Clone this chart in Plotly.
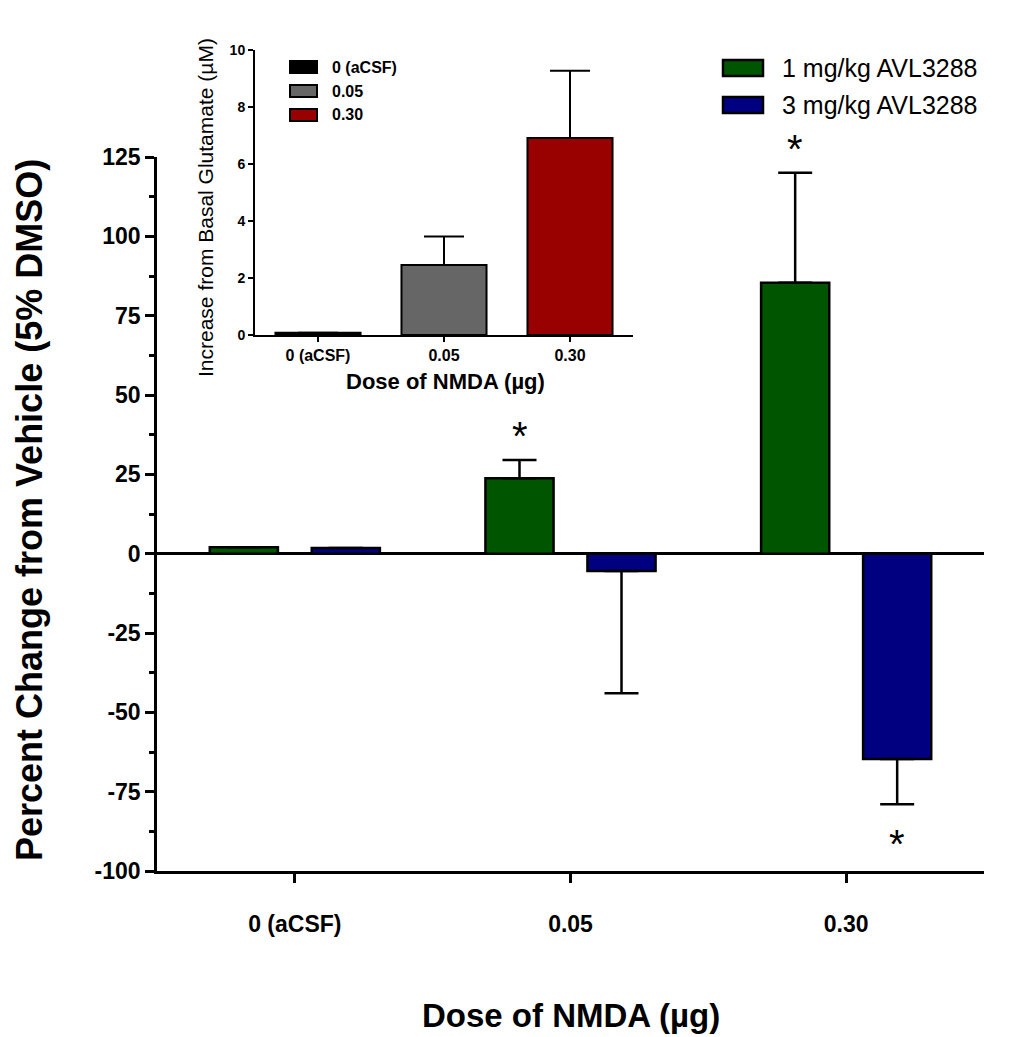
import plotly.graph_objects as go

# ---------------- data ----------------
doses = ["0 (aCSF)", "0.05", "0.30"]
series_names = ["1 mg/kg AVL3288", "3 mg/kg AVL3288"]
pct_1mg = [2.0, 23.8, 85.4]
err_1mg = [0, 5.7, 34.6]
pct_3mg = [1.8, -5.5, -64.7]
err_3mg = [0, 38.5, 14.3]
sig_1mg = [False, True, True]
sig_3mg = [False, False, True]
main_yticks = [-100, -75, -50, -25, 0, 25, 50, 75, 100, 125]

inset_glutamate = [0.08, 2.46, 6.91]
inset_err = [0, 1.0, 2.36]
inset_yticks = [0, 2, 4, 6, 8, 10]

# ---------------- styles ----------------
W, H = 1017, 1037
FONT = "Arial, Liberation Sans, sans-serif"
series_colors = ["#005500", "#000080"]
inset_colors = ["#000000", "#666666", "#990000"]


def px(x):
    return x / W


def py(y):
    return 1 - y / H


def up_err(vals, errs):
    return [e if v >= 0 else 0 for v, e in zip(vals, errs)]


def down_err(vals, errs):
    return [e if v < 0 else 0 for v, e in zip(vals, errs)]


def label(x, y, text, size, bold=False, angle=0, xanchor="center"):
    f = dict(family=FONT, size=size, color="black")
    if bold:
        f["weight"] = "bold"
    return dict(x=px(x), y=py(y), xref="paper", yref="paper", showarrow=False,
                xanchor=xanchor, yanchor="middle", text=text, textangle=angle, font=f)


xi = list(range(len(doses)))
fig = go.Figure()

for name, vals, errs, col in [
    (series_names[0], pct_1mg, err_1mg, series_colors[0]),
    (series_names[1], pct_3mg, err_3mg, series_colors[1]),
]:
    fig.add_trace(go.Bar(
        x=xi, y=vals, name=name, showlegend=False,
        marker=dict(color=col, line=dict(color="black", width=2.5)),
        error_y=dict(type="data", symmetric=False,
                     array=up_err(vals, errs), arrayminus=down_err(vals, errs),
                     color="black", thickness=2.5, width=17),
        xaxis="x", yaxis="y",
    ))

fig.add_trace(go.Bar(
    x=xi, y=inset_glutamate, showlegend=False, width=0.675,
    marker=dict(color=inset_colors, line=dict(color="black", width=2)),
    error_y=dict(type="data", symmetric=False, array=inset_err,
                 arrayminus=[0] * len(inset_err),
                 color="black", thickness=2, width=20),
    xaxis="x2", yaxis="y2",
))

annotations = []
# significance asterisks
for vals, errs, sigs, off in [(pct_1mg, err_1mg, sig_1mg, -0.185), (pct_3mg, err_3mg, sig_3mg, 0.185)]:
    for i, (v, e, s) in enumerate(zip(vals, errs, sigs)):
        if not s:
            continue
        end = v + e if v >= 0 else v - e
        annotations.append(dict(x=i + off, y=end, xref="x", yref="y", text="*",
                                showarrow=False, xanchor="center", yanchor="middle",
                                yshift=24 if v >= 0 else -40,
                                font=dict(family=FONT, size=40, color="black")))

# axis titles
annotations += [
    label(29, 510, "Percent Change from Vehicle (5% DMSO)", 36, bold=True, angle=-90),
    label(571, 1015, "Dose of NMDA (µg)", 33, bold=True),
    label(206, 208, "Increase from Basal Glutamate (µM)", 21, angle=-90),
    label(445, 381, "Dose of NMDA (µg)", 22, bold=True),
]

shapes = []
# main legend
for k, (name, col) in enumerate(zip(series_names, series_colors)):
    yc = 68 + 37 * k
    shapes.append(dict(type="rect", xref="paper", yref="paper",
                       x0=px(723), x1=px(763), y0=py(yc + 8), y1=py(yc - 8),
                       fillcolor=col, line=dict(color="black", width=2.5)))
    annotations.append(label(780, yc, name, 25, xanchor="left"))
# inset legend
for k, (name, col) in enumerate(zip(doses, inset_colors)):
    yc = 67 + 24 * k
    shapes.append(dict(type="rect", xref="paper", yref="paper",
                       x0=px(290), x1=px(317), y0=py(yc + 6), y1=py(yc - 6),
                       fillcolor=col, line=dict(color="black", width=2)))
    annotations.append(label(330, yc, name, 16, bold=True, xanchor="left"))

fig.update_layout(
    width=W, height=H, margin=dict(l=0, r=0, t=0, b=0, autoexpand=False),
    paper_bgcolor="white", plot_bgcolor="white",
    barmode="group", bargap=0.26, bargroupgap=0.332,
    showlegend=False,
    font=dict(family=FONT, color="black"),
    xaxis=dict(domain=[px(157), px(984)], range=[-0.5, 2.5],
               tickmode="array", tickvals=xi, ticktext=doses,
               showline=True, linecolor="black", linewidth=2.5,
               ticks="outside", ticklen=9, tickwidth=2.5, tickcolor="black",
               ticklabelstandoff=22, showgrid=False, zeroline=False,
               tickfont=dict(family=FONT, size=23, weight="bold", color="black")),
    yaxis=dict(domain=[py(871), py(157)], range=[-100, 125],
               tickmode="array", tickvals=main_yticks,
               ticktext=[str(v) for v in main_yticks],
               showline=True, linecolor="black", linewidth=2.5,
               ticks="outside", ticklen=9, tickwidth=2.5, tickcolor="black",
               minor=dict(dtick=12.5, tick0=0, ticks="outside", ticklen=5,
                          tickwidth=2.5, tickcolor="black", showgrid=False),
               showgrid=False, zeroline=True, zerolinecolor="black", zerolinewidth=2.5,
               tickfont=dict(family=FONT, size=23, weight="bold", color="black")),
    xaxis2=dict(domain=[px(255), px(633)], range=[-0.5, 2.5], anchor="y2",
                tickmode="array", tickvals=xi, ticktext=doses,
                showline=True, linecolor="black", linewidth=2,
                ticks="outside", ticklen=5, tickwidth=2, tickcolor="black",
                showgrid=False, zeroline=False,
                tickfont=dict(family=FONT, size=16, weight="bold", color="black")),
    yaxis2=dict(domain=[py(335), py(50)], range=[0, 10], anchor="x2",
                tickmode="array", tickvals=inset_yticks,
                showline=True, linecolor="black", linewidth=2,
                ticks="outside", ticklen=5, tickwidth=2, tickcolor="black",
                showgrid=False, zeroline=False,
                tickfont=dict(family=FONT, size=14, weight="bold", color="black")),
    annotations=annotations, shapes=shapes,
)

fig.write_html("out.html")
